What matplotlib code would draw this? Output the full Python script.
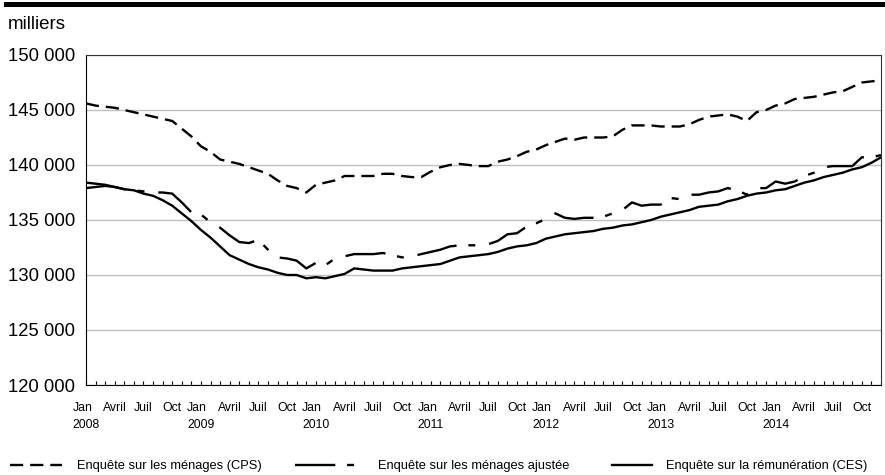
import matplotlib
matplotlib.use("Agg")
import matplotlib.pyplot as plt
from matplotlib.ticker import FuncFormatter, MultipleLocator
from matplotlib.patches import Rectangle
import numpy as np

plt.rcParams['font.family'] = ['Liberation Sans', 'DejaVu Sans']
plt.rcParams['lines.scale_dashes'] = False

# Monthly data, Jan 2008 - Dec 2014 (thousands)
years = [2008, 2009, 2010, 2011, 2012, 2013, 2014]
month_names = ["Jan", "Avril", "Juil", "Oct"]

cps = [145600, 145400, 145300, 145200, 145000, 144800, 144600, 144400, 144200, 144000,
       143300, 142600, 141700, 141200, 140500, 140300, 140100, 139800, 139500, 139200,
       138600, 138100, 137900, 137500, 138200, 138400, 138600, 139000, 139000, 139000,
       139000, 139200, 139200, 139000, 138900, 138900, 139400, 139800, 140000, 140100,
       140000, 139900, 139900, 140300, 140500, 140800, 141200, 141400, 141800, 142100,
       142400, 142300, 142500, 142500, 142500, 142600, 143200, 143600, 143600, 143600,
       143500, 143500, 143500, 143700, 144100, 144400, 144500, 144600, 144400, 144000,
       144800, 145000, 145400, 145600, 146000, 146100, 146200, 146400, 146600, 146700,
       147100, 147500, 147600, 147700]

cps_adj = [137900, 138000, 138100, 138000, 137800, 137700, 137600, 137500, 137500, 137400,
           136600, 135700, 135500, 134800, 134300, 133600, 133000, 132900, 133200, 132300,
           131600, 131500, 131300, 130600, 131100, 130900, 131500, 131700, 131900, 131900,
           131900, 132000, 131800, 131600, 131700, 131900, 132100, 132300, 132600, 132700,
           132700, 132700, 132800, 133100, 133700, 133800, 134400, 134700, 135100, 135600,
           135200, 135100, 135200, 135200, 135300, 135600, 135900, 136600, 136300, 136400,
           136400, 137000, 136900, 137300, 137300, 137500, 137600, 137900, 137700, 137300,
           137900, 137900, 138500, 138300, 138500, 139000, 139300, 139800, 139900, 139900,
           139900, 140700, 140700, 140900]

ces = [138400, 138300, 138200, 138000, 137800, 137700, 137400, 137200, 136800, 136300,
       135600, 134900, 134100, 133400, 132600, 131800, 131400, 131000, 130700, 130500,
       130200, 130000, 130000, 129700, 129800, 129700, 129900, 130100, 130600, 130500,
       130400, 130400, 130400, 130600, 130700, 130800, 130900, 131000, 131300, 131600,
       131700, 131800, 131900, 132100, 132400, 132600, 132700, 132900, 133300, 133500,
       133700, 133800, 133900, 134000, 134200, 134300, 134500, 134600, 134800, 135000,
       135300, 135500, 135700, 135900, 136200, 136300, 136400, 136700, 136900, 137200,
       137400, 137500, 137700, 137800, 138100, 138400, 138600, 138900, 139100, 139300,
       139600, 139800, 140200, 140700]

W, H = 885, 475
fig = plt.figure(figsize=(W / 100, H / 100), dpi=100)
ax = fig.add_axes([86 / W, 90 / H, 795 / W, 330 / H])

x = np.arange(len(cps))
l1, = ax.plot(x, cps, color='black', lw=1.7, linestyle=(0, (9.5, 5)),
              label="Enquête sur les ménages (CPS)")
l2, = ax.plot(x, cps_adj, color='black', lw=1.7, linestyle=(0, (29, 8.5, 5, 10)),
              label="Enquête sur les ménages ajustée")
l3, = ax.plot(x, ces, color='black', lw=1.7, label="Enquête sur la rémunération (CES)")

ax.set_xlim(0, len(cps) - 1)
ax.set_ylim(120000, 150000)
ax.set_yticks(range(120000, 150001, 5000))
ax.yaxis.set_major_formatter(FuncFormatter(lambda v, p: f"{int(v):,}".replace(",", " ")))
ax.tick_params(axis='y', length=0, pad=8, labelsize=13.3)
ax.grid(axis='y', color='#c0c0c0', lw=1)
ax.set_axisbelow(True)

pos, labels = [], []
for k, yr in enumerate(years):
    for j, m in enumerate(month_names):
        pos.append(k * 12 + j * 3)
        labels.append(f"{m}\n{yr}" if j == 0 else m)
ax.set_xticks(pos, labels)
for lbl in ax.get_xticklabels():
    lbl.set_multialignment('left')
    lbl.set_linespacing(1.6)
ax.xaxis.set_minor_locator(MultipleLocator(1))
ax.tick_params(axis='x', which='both', direction='in', length=3, width=0.8,
               labelsize=8.8, pad=12)

for side in ['top', 'right']:
    ax.spines[side].set_color('#333333')
for side in ['left', 'bottom']:
    ax.spines[side].set_color('black')

# black rule at the top + unit label
fig.add_artist(Rectangle((4 / W, 1 - 7 / H), 881 / W, 5 / H, transform=fig.transFigure,
                         color='black', lw=0))
fig.text(8 / W, 1 - 29 / H, "milliers", fontsize=13.5, ha='left', va='baseline')

# legend: one entry each, so sample lengths can differ
leg_y = 1 - 466 / H
for handle, x0, hlen, pad in [(l1, 10, 4.0, 1.2), (l2, 295, 5.4, 1.0), (l3, 612, 3.1, 1.1)]:
    fig.legend(handles=[handle], loc='center left', bbox_to_anchor=(x0 / W, leg_y),
               frameon=False, fontsize=9.3, handlelength=hlen, handletextpad=pad,
               borderpad=0, borderaxespad=0)

fig.savefig("out.png", dpi=100)
